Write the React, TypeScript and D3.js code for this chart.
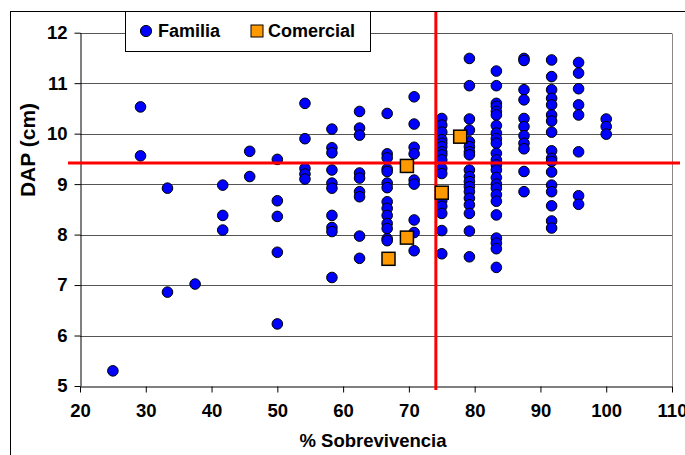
import React, { useEffect, useRef } from "react";
import * as d3 from "d3";

// ---- data ----
const survivalLevels = [25, 29.2, 33.3, 37.5, 41.7, 45.8, 50, 54.2, 58.3, 62.5, 66.7, 70.8, 75, 79.2, 83.3, 87.5, 91.7, 95.8, 100];
const familiaDap: number[][] = [
  [5.3],
  [10.53, 9.56],
  [8.92, 6.86],
  [7.02],
  [8.98, 8.38, 8.09],
  [9.65, 9.15],
  [9.49, 8.67, 8.36, 7.65, 6.23],
  [10.6, 9.9, 9.31, 9.2, 9.1],
  [10.09, 9.72, 9.62, 9.28, 9.02, 8.92, 8.38, 8.14, 8.06, 7.15],
  [10.44, 10.11, 9.97, 9.22, 9.12, 8.85, 8.75, 7.97, 7.53],
  [10.4, 9.6, 9.52, 9.3, 9.25, 9.02, 8.93, 8.65, 8.52, 8.38, 8.22, 8.12, 7.92, 7.88],
  [10.73, 10.19, 9.73, 9.6, 9.08, 9.0, 8.29, 8.04, 7.68],
  [10.3, 10.17, 10.03, 9.88, 9.81, 9.74, 9.64, 9.58, 9.48, 9.31, 9.21, 8.67, 8.56, 8.42, 8.08, 7.62],
  [11.49, 10.95, 10.29, 10.07, 9.84, 9.74, 9.64, 9.58, 9.28, 9.15, 9.05, 8.95, 8.85, 8.72, 8.59, 8.42, 8.07, 7.56],
  [11.24, 10.95, 10.6, 10.54, 10.44, 10.37, 10.16, 10.01, 9.9, 9.81, 9.61, 9.48, 9.38, 9.28, 9.13, 9.0, 8.92, 8.79, 8.66, 8.39, 7.93, 7.83, 7.72, 7.35],
  [11.49, 11.45, 10.87, 10.67, 10.3, 10.14, 9.96, 9.81, 9.7, 9.25, 8.85],
  [11.46, 11.13, 10.87, 10.7, 10.57, 10.37, 10.25, 10.03, 9.66, 9.51, 9.45, 9.24, 8.98, 8.85, 8.57, 8.27, 8.13],
  [11.41, 11.2, 10.89, 10.57, 10.37, 9.64, 8.77, 8.6],
  [10.29, 10.14, 9.99],
];
const comercialSurvival = [66.9, 69.7, 69.7, 75.0, 77.8];
const comercialDap = [7.52, 7.94, 9.36, 8.83, 9.94];
const xTicks = [20, 30, 40, 50, 60, 70, 80, 90, 100, 110];
const yTicks = [5, 6, 7, 8, 9, 10, 11, 12];
const refSurvival = 74.1;
const refDap = 9.42;
const seriesNames = ["Familia", "Comercial"];

const FONT = "'Liberation Sans', Arial, sans-serif";

export default function App() {
  const W = 685, H = 455;
  const left = 80, right = 672, top = 32.7, bottom = 386;
  const x = d3.scaleLinear().domain([20, 110]).range([left, right]);
  const y = d3.scaleLinear().domain([5, 12]).range([bottom, top]);
  const xAxisRef = useRef<SVGGElement>(null);
  const yAxisRef = useRef<SVGGElement>(null);

  useEffect(() => {
    const xa = d3.axisBottom(x).tickValues(xTicks).tickSizeInner(6).tickSizeOuter(0).tickPadding(11).tickFormat(d3.format("d"));
    const ya = d3.axisLeft(y).tickValues(yTicks).tickSizeInner(6).tickSizeOuter(0).tickPadding(7).tickFormat(d3.format("d"));
    const gx = d3.select(xAxisRef.current!);
    gx.call(xa as any);
    const gy = d3.select(yAxisRef.current!);
    gy.call(ya as any);
    [gx, gy].forEach((g) => {
      g.selectAll("path.domain").attr("stroke", "#000").attr("stroke-width", 1);
      g.selectAll(".tick line").attr("stroke", "#000");
      g.selectAll(".tick text")
        .attr("fill", "#000")
        .style("font-family", FONT)
        .style("font-weight", "bold")
        .style("font-size", "18.5px");
    });
  }, []);

  const points: { sx: number; d: number }[] = [];
  survivalLevels.forEach((s, i) => familiaDap[i].forEach((d) => points.push({ sx: s, d })));

  const sq = 13;

  return (
    <svg width={W} height={H} style={{ position: "absolute", left: 0, top: 0, background: "#fff" }}>
      <rect x={0} y={0} width={W} height={H} fill="#fff" />
      {/* chart area border */}
      <rect x={10.5} y={11.5} width={W + 20} height={H + 20} fill="#fff" stroke="#000" strokeWidth={1} />
      {/* gridlines */}
      {yTicks.filter((t) => t !== 5).map((t) => (
        <line key={t} x1={left} x2={right} y1={Math.round(y(t)) + 0.5} y2={Math.round(y(t)) + 0.5} stroke="#555" strokeWidth={1} />
      ))}
      <line x1={right + 0.5} x2={right + 0.5} y1={Math.round(top) + 0.5} y2={bottom} stroke="#888" strokeWidth={1} />
      <g ref={xAxisRef} transform={`translate(0,${Math.round(bottom) + 0.5})`} />
      <g ref={yAxisRef} transform={`translate(${left + 0.5},0)`} />
      {/* Familia */}
      {points.map((p, i) => (
        <circle key={i} cx={x(p.sx)} cy={y(p.d)} r={5.3} fill="#0000ff" stroke="#000" strokeWidth={1} />
      ))}
      {/* reference lines */}
      <line x1={x(refSurvival)} x2={x(refSurvival)} y1={12} y2={390} stroke="#ff0000" strokeWidth={3} />
      <line x1={68} x2={680} y1={y(refDap)} y2={y(refDap)} stroke="#ff0000" strokeWidth={3} />
      {/* Comercial */}
      {comercialSurvival.map((s, i) => (
        <rect key={i} x={x(s) - sq / 2} y={y(comercialDap[i]) - sq / 2} width={sq} height={sq} fill="#ff9900" stroke="#000" strokeWidth={1.5} />
      ))}
      {/* axis titles */}
      <text x={373} y={447} textAnchor="middle" fontFamily={FONT} fontWeight="bold" fontSize={18.5}>% Sobrevivencia</text>
      <text transform="translate(35,150) rotate(-90)" textAnchor="middle" fontFamily={FONT} fontWeight="bold" fontSize={21}>DAP (cm)</text>
      {/* legend */}
      <rect x={125.5} y={11.5} width={245} height={40} fill="#fff" stroke="#000" strokeWidth={1} />
      <circle cx={146} cy={31} r={5.6} fill="#0000ff" stroke="#000" strokeWidth={1} />
      <text x={158} y={37} fontFamily={FONT} fontWeight="bold" fontSize={18}>{seriesNames[0]}</text>
      <rect x={251} y={25} width={12} height={12} fill="#ff9900" stroke="#000" strokeWidth={1} />
      <text x={268} y={37} fontFamily={FONT} fontWeight="bold" fontSize={18}>{seriesNames[1]}</text>
    </svg>
  );
}
